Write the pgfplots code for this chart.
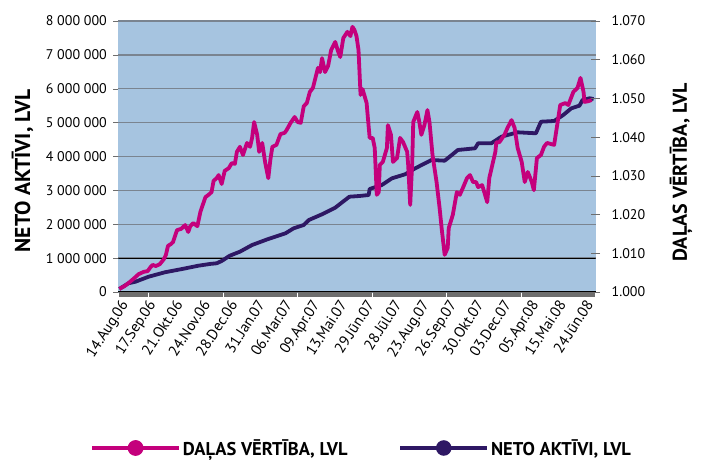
\documentclass[border=0pt]{standalone}
\usepackage{fontspec}
\setmainfont{PT Sans}
\usepackage{pgfplots}
\pgfplotsset{compat=1.18}
\definecolor{bgblue}{RGB}{166,196,224}
\definecolor{pinkline}{RGB}{196,0,124}
\definecolor{purpleline}{RGB}{46,24,100}
\definecolor{gridgray}{RGB}{122,132,144}
\definecolor{tickgray}{RGB}{110,110,110}

\begin{document}
\begin{tikzpicture}
\useasboundingbox (-118.3pt,-170pt) rectangle (583.7pt,292pt);
% primary axis: net assets
\begin{axis}[
  at={(0pt,0pt)}, anchor=south west,
  scale only axis, width=477.4pt, height=271pt,
  xmin=-1, xmax=470, ymin=0, ymax=8000000,
  scaled y ticks=false,
  axis background/.style={fill=bgblue},
  axis x line*=bottom, axis y line*=left,
  x axis line style={-, black, line width=1pt},
  y axis line style={draw=none},
  ytick={0,1000000,2000000,3000000,4000000,5000000,6000000,7000000,8000000},
  yticklabels={0,1 000 000,2 000 000,3 000 000,4 000 000,5 000 000,6 000 000,7 000 000,8 000 000},
  xtick={0,27,54,81,108,135,162,189,216,243,270,297,324,351,378,405,432,459},
  xticklabels={14.Aug.06,17.Sep.06,21.Okt.06,24.Nov.06,28.Dec.06,31.Jan.07,06.Mar.07,09.Apr.07,13.Mai.07,29.Jūn.07,28.Jūl.07,23.Aug.07,26.Sep.07,30.Okt.07,03.Dec.07,05.Apr.08,15.Mai.08,24.Jūn.08},
  minor xtick={0,1,...,469},
  tick align=outside,
  major tick length=5pt, minor tick length=5pt,
  tick style={tickgray, line width=0.4pt},
  ymajorgrids, grid style={gridgray, line width=1.3pt},
  ticklabel style={font=\fontsize{14}{16}\selectfont},
  xticklabel style={rotate=57, anchor=north east, inner sep=1pt, font=\fontsize{15}{17}\selectfont},
  yticklabel style={xshift=-3pt},
  ylabel={\bfseries NETO AKTĪVI, LVL},
  ylabel style={at={(axis description cs:-0.2007,0.4465)}, anchor=center, font=\fontsize{21.5}{24}\selectfont},
]
\draw[black, line width=0.9pt] (axis cs:-1,1000000) -- (axis cs:470,1000000);
\addplot[purpleline, line width=3.8pt, line join=round] coordinates {
(0,89000)(9,257000)(16,304000)(29,452000)(45,582000)(62,679000)(78,776000)
(90,830000)(96,847000)(101,915000)(109,1072000)(119,1190000)(131,1387000)
(147,1565000)(164,1733000)(172,1880000)(182,1978000)(187,2125000)(200,2294000)
(213,2489000)(227,2813000)(237,2834000)(246,2863000)(247,3041000)(259,3159000)
(269,3356000)(282,3475000)(292,3652000)(308,3897000)(321,3876000)(328,4044000)
(334,4192000)(351,4242000)(354,4390000)(367,4390000)(377,4585000)(393,4714000)
(411,4685000)(416,5027000)(429,5048000)(438,5225000)(446,5423000)(454,5500000)
(457,5668000)(464,5718000)(468,5697000)
};
\end{axis}
% secondary axis: unit value
\begin{axis}[
  at={(0pt,0pt)}, anchor=south west,
  scale only axis, width=477.4pt, height=271pt,
  xmin=-1, xmax=470, ymin=1, ymax=1.07,
  axis x line=none, axis y line*=right,
  y axis line style={draw=none},
  ytick={1,1.01,1.02,1.03,1.04,1.05,1.06,1.07},
  yticklabels={1.000,1.010,1.020,1.030,1.040,1.050,1.060,1.070},
  tick align=center, major tick length=9pt,
  tick style={tickgray, line width=0.6pt},
  ticklabel style={font=\fontsize{14}{16}\selectfont},
  yticklabel style={xshift=8pt},
  ylabel={\bfseries DAĻAS VĒRTĪBA, LVL},
  ylabel style={at={(axis description cs:1.1787,0.441)}, anchor=center, font=\fontsize{20}{22}\selectfont},
  legend style={at={(axis description cs:-0.0593,-0.5756)}, anchor=west, draw=none, fill=none,
    inner sep=0pt, font=\bfseries\fontsize{18.5}{20}\selectfont,
    /tikz/every even column/.append style={column sep=49pt}},
  legend columns=2,
  legend image code/.code={\draw[#1] (0pt,0pt) -- (87pt,0pt); \fill[#1] (43.5pt,0pt) circle (6pt);},
]
\addplot[pinkline, line width=3.8pt, line join=round] coordinates {
(0,1.0008)(5,1.0015)(9,1.0023)(14,1.0034)(19,1.0046)(24,1.0052)(28,1.0054)
(31,1.0065)(33,1.0070)(36,1.0067)(40,1.0072)(44,1.0085)(46,1.0096)(48,1.0119)
(51,1.0124)(53,1.0129)(55,1.0145)(57,1.0160)(61,1.0163)(65,1.0173)(68,1.0155)
(70,1.0170)(73,1.0178)(77,1.0170)(80,1.0207)(83,1.0230)(85,1.0245)(88,1.0251)
(91,1.0258)(93,1.0287)(96,1.0294)(98,1.0302)(101,1.0279)(104,1.0313)(108,1.0320)
(111,1.0333)(114,1.0331)(116,1.0362)(119,1.0375)(122,1.0354)(126,1.0385)
(129,1.0375)(131,1.0398)(133,1.0439)(136,1.0406)(138,1.0362)(141,1.0385)
(144,1.0333)(147,1.0294)(149,1.0341)(151,1.0375)(155,1.0380)(159,1.0408)
(163,1.0411)(165,1.0418)(169,1.0437)(173,1.0452)(176,1.0439)(179,1.0437)
(182,1.0480)(185,1.0488)(188,1.0517)(191,1.0527)(193,1.0548)(196,1.0579)
(198,1.0568)(200,1.0604)(203,1.0568)(206,1.0584)(209,1.0625)(213,1.0646)
(216,1.0620)(218,1.0607)(221,1.0656)(225,1.0672)(228,1.0661)(230,1.0685)
(232,1.0677)(234,1.0661)(236,1.0625)(238,1.0509)(240,1.0524)(244,1.0488)
(245,1.0457)(247,1.0398)(250,1.0398)(252,1.0372)(254,1.0251)(256,1.0258)
(257,1.0328)(260,1.0336)(264,1.0372)(265,1.0431)(268,1.0406)(270,1.0336)
(274,1.0346)(277,1.0398)(280,1.0387)(284,1.0362)(285,1.0328)(287,1.0225)
(289,1.0336)(290,1.0439)(294,1.0465)(296,1.0439)(298,1.0406)(301,1.0431)
(304,1.0470)(306,1.0439)(309,1.0354)(313,1.0284)(316,1.0217)(318,1.0165)
(321,1.0096)(324,1.0114)(325,1.0165)(329,1.0199)(333,1.0258)(336,1.0251)
(339,1.0269)(343,1.0294)(346,1.0302)(349,1.0284)(352,1.0284)(354,1.0271)
(358,1.0276)(363,1.0232)(365,1.0294)(368,1.0328)(371,1.0362)(372,1.0387)
(375,1.0387)(380,1.0406)(383,1.0424)(387,1.0444)(390,1.0424)(393,1.0372)
(397,1.0336)(400,1.0284)(403,1.0310)(407,1.0284)(409,1.0263)(412,1.0346)
(416,1.0354)(419,1.0375)(422,1.0385)(429,1.0380)(432,1.0431)(435,1.0483)
(440,1.0488)(443,1.0483)(448,1.0517)(452,1.0527)(455,1.0553)(458,1.0517)
(459,1.0491)(463,1.0493)(466,1.0496)
};
\addlegendentry{DAĻAS VĒRTĪBA, LVL}
\addlegendimage{purpleline, line width=3.5pt}
\addlegendentry{NETO AKTĪVI, LVL}
\end{axis}
\end{tikzpicture}
\end{document}
